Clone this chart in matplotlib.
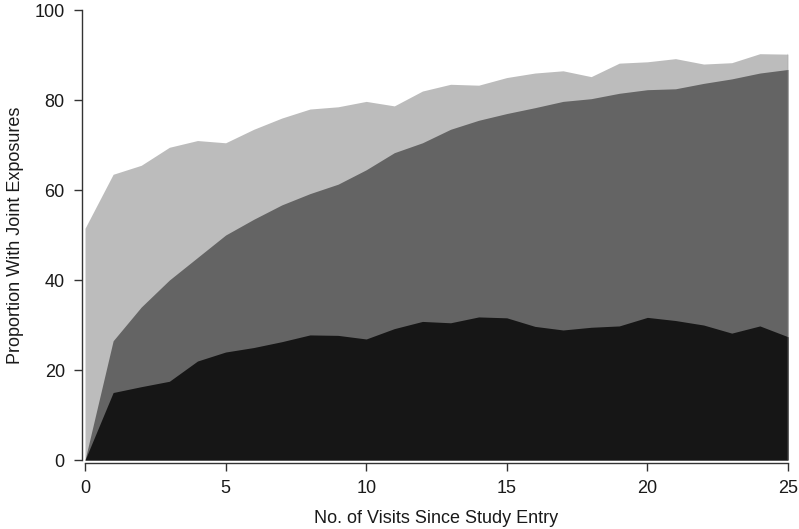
import matplotlib
matplotlib.use("Agg")
import matplotlib.pyplot as plt
from matplotlib import font_manager

# visits since study entry
visits = list(range(26))

# cumulative boundaries (percent)
bottom_layer = [0, 15.0, 16.3, 17.5, 22.0, 24.0, 25.0, 26.3, 27.8, 27.7, 26.9,
                29.2, 30.8, 30.5, 31.8, 31.6, 29.7, 28.9, 29.5, 29.8, 31.7,
                31.0, 30.0, 28.2, 29.8, 27.4]
middle_layer = [0, 26.5, 34.0, 40.0, 45.0, 50.0, 53.5, 56.7, 59.2, 61.3, 64.5,
                68.3, 70.5, 73.5, 75.5, 77.0, 78.3, 79.7, 80.3, 81.5, 82.3,
                82.5, 83.7, 84.7, 86.0, 86.8]
top_layer = [51.5, 63.5, 65.5, 69.5, 71.0, 70.5, 73.5, 76.0, 78.0, 78.5, 79.7,
             78.7, 82.0, 83.5, 83.3, 85.0, 86.0, 86.5, 85.2, 88.2, 88.5,
             89.2, 88.0, 88.3, 90.3, 90.2]

names = {f.name for f in font_manager.fontManager.ttflist}
family = "Liberation Sans Narrow" if "Liberation Sans Narrow" in names else "Liberation Sans"
plt.rcParams["font.family"] = [family, "DejaVu Sans"]

fig = plt.figure(figsize=(7.99, 5.29), dpi=100)
ax = fig.add_axes([0.1064, 0.1304, 0.8798, 0.8506])

ax.fill_between(visits, 0, top_layer, color="#bcbcbc", lw=0)
ax.fill_between(visits, 0, middle_layer, color="#646464", lw=0)
ax.fill_between(visits, 0, bottom_layer, color="#161616", lw=0)
ax.plot([visits[-1], visits[-1]], [0, top_layer[-1]], color="#9a9a9a", lw=1)

ax.set_xlim(0, 25)
ax.set_ylim(0, 100)
ax.set_xticks([0, 5, 10, 15, 20, 25])
ax.set_yticks([0, 20, 40, 60, 80, 100])

for side in ["top", "right"]:
    ax.spines[side].set_visible(False)
for side in ["left", "bottom"]:
    ax.spines[side].set_position(("outward", 2))
    ax.spines[side].set_color("#333333")
    ax.spines[side].set_linewidth(1.0)

ax.tick_params(axis="both", direction="out", length=6, width=1, color="#333333",
               labelsize=13, labelcolor="#1a1a1a", pad=6.5)

ax.set_xlabel("No. of Visits Since Study Entry", fontsize=13, color="#1a1a1a", labelpad=9)
ax.set_ylabel("Proportion With Joint Exposures", fontsize=13, color="#1a1a1a", labelpad=8)

fig.savefig("out.png", dpi=100)
